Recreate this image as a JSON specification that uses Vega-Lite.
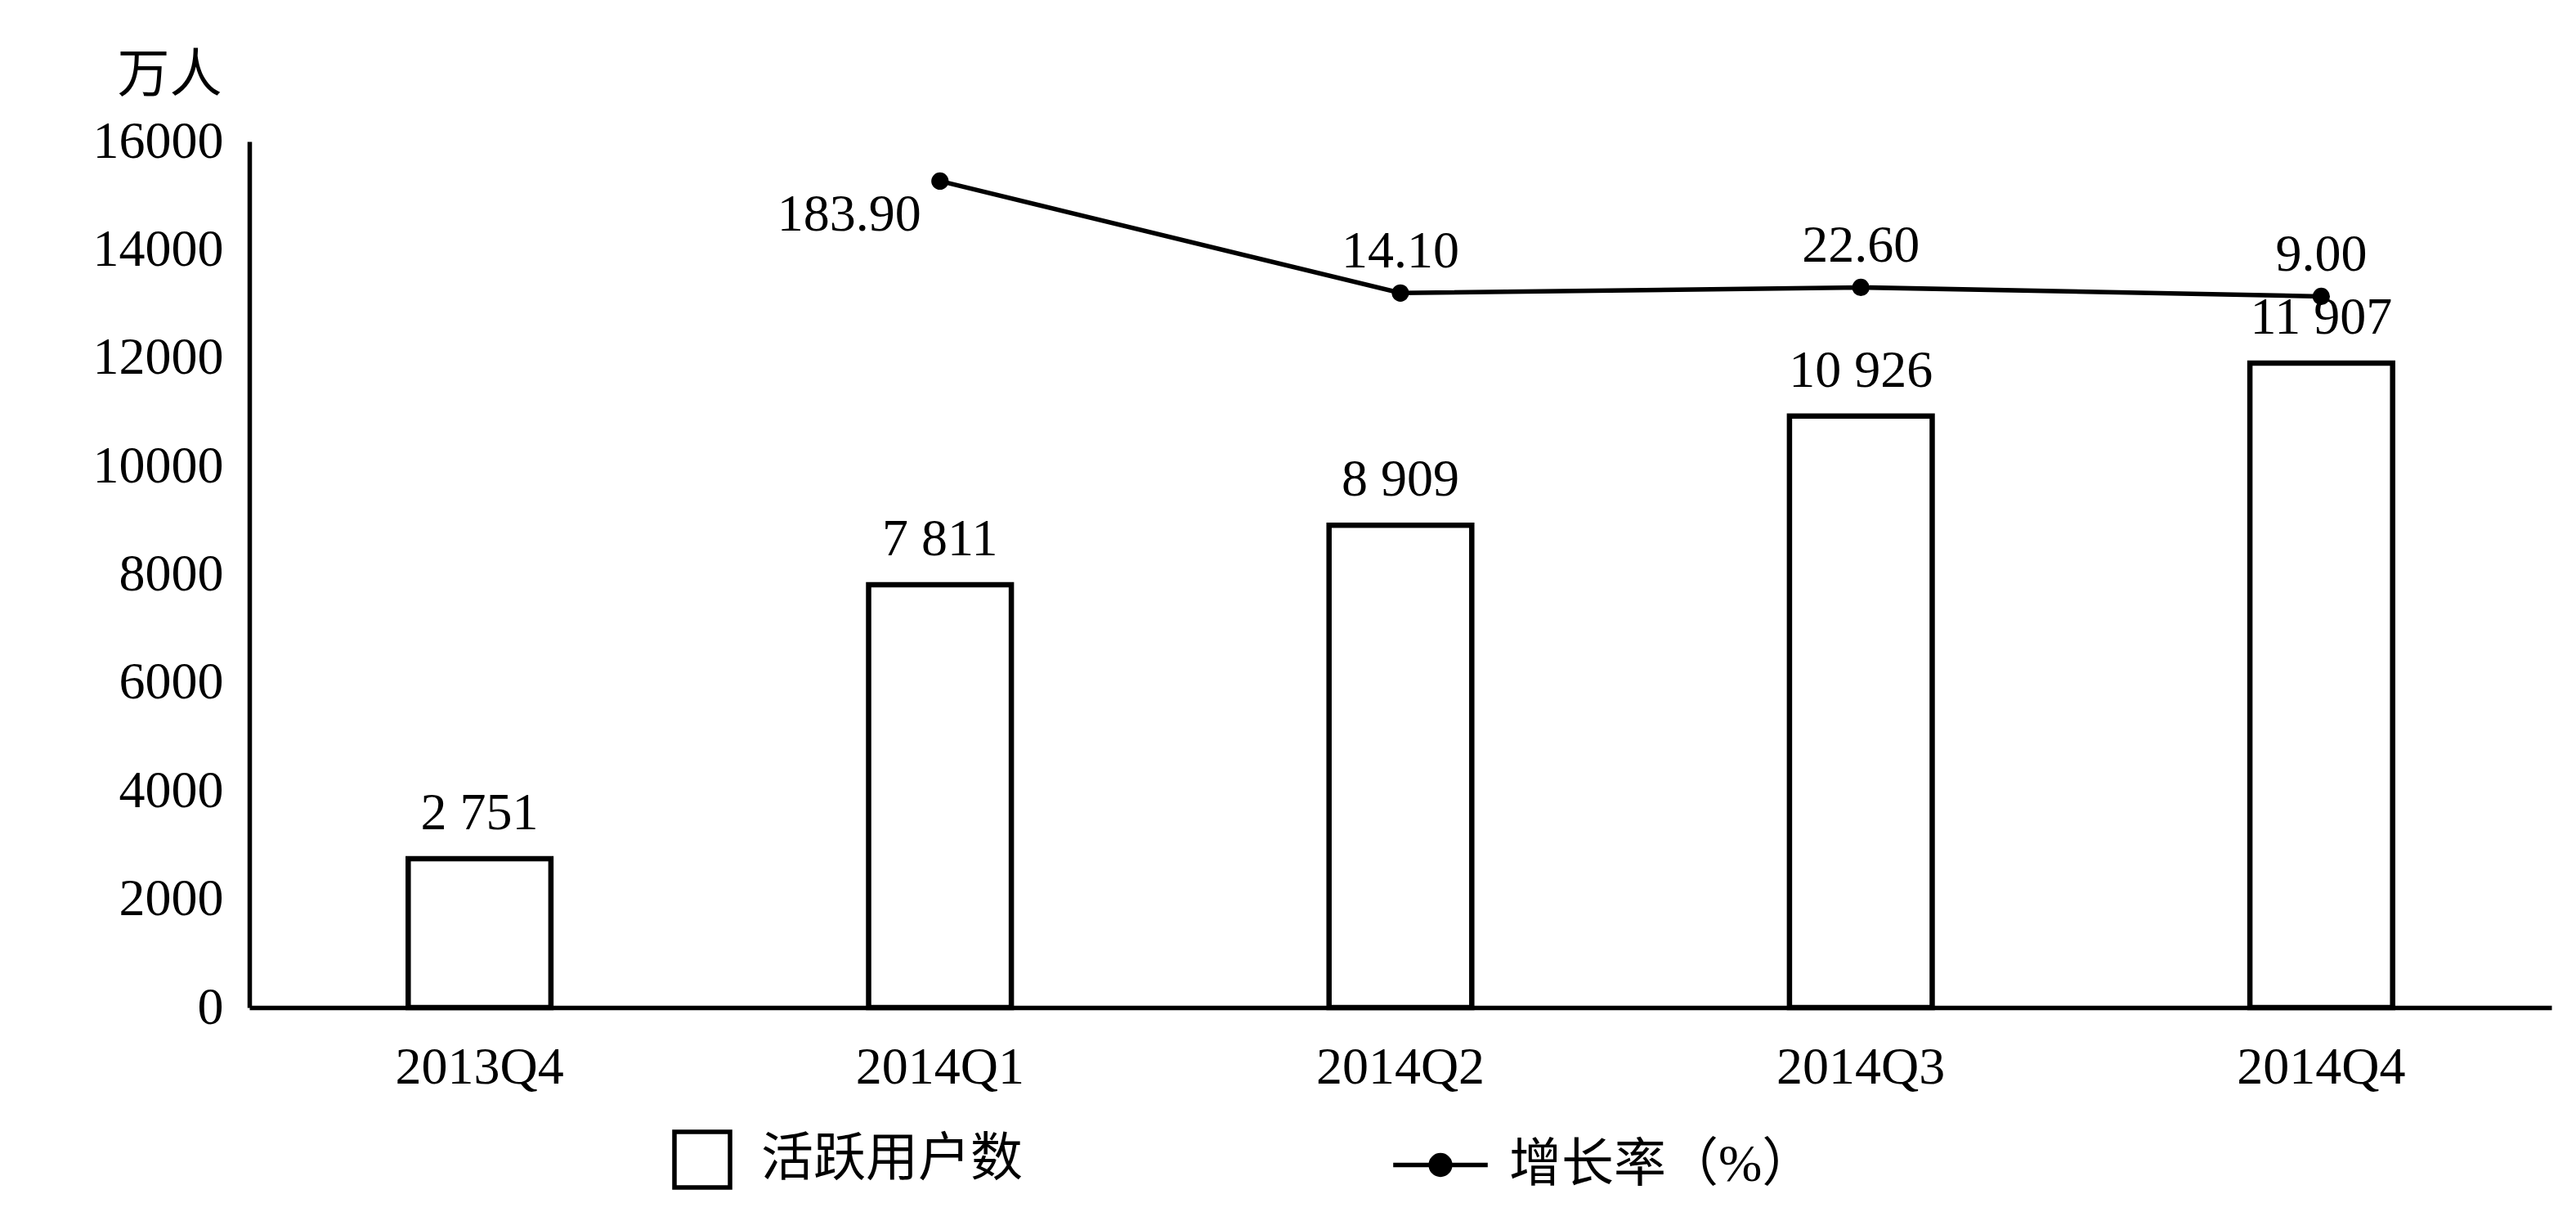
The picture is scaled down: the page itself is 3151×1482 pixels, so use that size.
{
  "$schema": "https://vega.github.io/schema/vega-lite/v6.json",
  "width": 2816,
  "height": 1059,
  "autosize": {"type": "none"},
  "padding": {"left": 305, "top": 173, "right": 30, "bottom": 250},
  "background": "white",
  "config": {
    "view": {"stroke": null},
    "font": "Liberation Serif, Noto Sans CJK SC",
    "locale": {"number": {"decimal": ".", "thousands": " ", "grouping": [3], "currency": ["", ""]}},
    "axis": {"labelFont": "Liberation Serif, Noto Sans CJK SC", "titleFont": "Liberation Serif, Noto Sans CJK SC", "labelColor": "black", "titleColor": "black", "domainColor": "black", "grid": false, "ticks": false, "labelLimit": 1000}
  },
  "data": {
    "values": [
      {"q": "2013Q4", "users": 2751, "rate": null},
      {"q": "2014Q1", "users": 7811, "rate": 183.9},
      {"q": "2014Q2", "users": 8909, "rate": 14.1},
      {"q": "2014Q3", "users": 10926, "rate": 22.6},
      {"q": "2014Q4", "users": 11907, "rate": 9.0}
    ]
  },
  "encoding": {
    "x": {
      "field": "q", "type": "ordinal", "sort": null,
      "scale": {"paddingInner": 0.69, "paddingOuter": 0.345},
      "axis": {"title": null, "labelAngle": 0, "labelFontSize": 64, "labelPadding": 41, "domainWidth": 5.5, "labelLimit": 1000}
    }
  },
  "layer": [
    {
      "mark": {"type": "bar", "fill": "white", "stroke": "black", "strokeWidth": 6.5},
      "encoding": {
        "y": {
          "field": "users", "type": "quantitative",
          "scale": {"domain": [0, 16000], "nice": false},
          "axis": {"title": "万人", "titleAngle": 0, "titleAlign": "right", "titleBaseline": "middle", "titleX": -34, "titleY": -81, "titleFontSize": 64, "titleFontWeight": "normal", "labelFontSize": 64, "labelPadding": 32, "format": "d", "values": [0, 2000, 4000, 6000, 8000, 10000, 12000, 14000, 16000], "domainWidth": 5.5}
        },
        "color": {
          "datum": "活跃用户数", "type": "nominal",
          "scale": {"domain": ["活跃用户数", "增长率（%）"], "range": ["black", "black"]},
          "legend": {
            "orient": "none", "legendX": 517, "legendY": 1208, "direction": "horizontal", "title": null,
            "padding": 0, "labelFont": "Liberation Serif, Noto Sans CJK SC", "labelFontSize": 64, "labelColor": "black",
            "labelOffset": 35, "columnPadding": 442, "symbolSize": 4624, "symbolStrokeWidth": 5.5, "labelLimit": 1000,
            "symbolType": "square", "symbolStrokeColor": "black",
            "encode": {
              "symbols": {"update": {
                "shape": {"signal": "datum.value === '活跃用户数' ? 'square' : 'M-1.7,0H-0.35A0.35,0.35 0 1 1 0.35,0A0.35,0.35 0 1 1 -0.35,0M0.35,0H1.7'"},
                "fillOpacity": {"signal": "datum.value === '活跃用户数' ? 0 : 1"},
                "strokeWidth": {"value": 5.5}
              }},
              "labels": {"update": {"dx": {"signal": "datum.value === '活跃用户数' ? 0 : 12"}}}
            }
          }
        }
      }
    },
    {
      "mark": {"type": "text", "fontSize": 64, "baseline": "middle", "dy": -55, "color": "black"},
      "encoding": {
        "y": {"field": "users", "type": "quantitative", "scale": {"domain": [0, 16000], "nice": false}, "axis": null},
        "text": {"field": "users", "type": "quantitative", "format": ",d"}
      }
    },
    {
      "transform": [{"filter": "datum.rate != null"}],
      "mark": {"type": "line", "strokeWidth": 5.5, "point": {"filled": true, "size": 450}},
      "encoding": {
        "y": {"field": "rate", "type": "quantitative", "scale": {"domain": [-1070, 244], "nice": false, "zero": false}, "axis": null},
        "color": {"datum": "增长率（%）", "type": "nominal", "legend": null}
      }
    },
    {
      "transform": [{"filter": "datum.rate != null && datum.q !== '2014Q1'"}],
      "mark": {"type": "text", "fontSize": 64, "baseline": "middle", "dy": -50, "color": "black"},
      "encoding": {
        "y": {"field": "rate", "type": "quantitative", "scale": {"domain": [-1070, 244], "nice": false, "zero": false}, "axis": null},
        "text": {"field": "rate", "type": "quantitative", "format": ".2f"}
      }
    },
    {
      "transform": [{"filter": "datum.q === '2014Q1'"}],
      "mark": {"type": "text", "fontSize": 64, "baseline": "middle", "align": "right", "dx": -23, "dy": 42, "color": "black"},
      "encoding": {
        "y": {"field": "rate", "type": "quantitative", "scale": {"domain": [-1070, 244], "nice": false, "zero": false}, "axis": null},
        "text": {"field": "rate", "type": "quantitative", "format": ".2f"}
      }
    }
  ],
  "resolve": {"scale": {"y": "independent"}}
}
